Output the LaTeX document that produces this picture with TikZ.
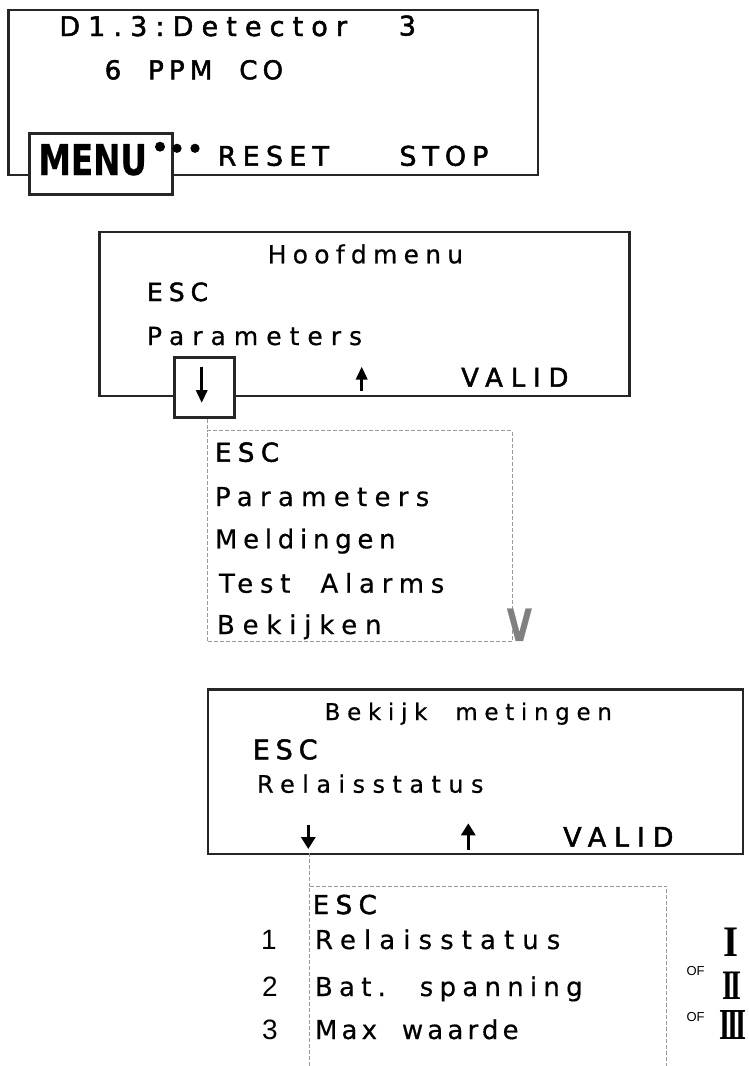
\documentclass[tikz,border=0pt]{standalone}
\usepackage{fontspec}
\usepackage{graphicx}
\usetikzlibrary{arrows.meta}
\newfontfamily\lcdH[FakeBold=1.8,WordSpace=2]{DejaVu Sans}
\newfontfamily\lcdL[FakeBold=0.5,WordSpace=2]{DejaVu Sans}
\newfontfamily\arialfont{Liberation Sans}
\newfontfamily\romfont{Liberation Serif}
\tikzset{
  lcdbox/.style={draw=black!85, line width=2.2pt, rectangle, inner sep=0pt, anchor=north west},
  keybox/.style={draw=black!85, line width=3pt, fill=white, rectangle, inner sep=0pt, anchor=north west},
  dashbox/.style={draw=black!40, line width=1pt, dash pattern=on 4pt off 2pt, rectangle, inner sep=0pt, anchor=north west},
  dashline/.style={draw=black!40, line width=1pt, dash pattern=on 4pt off 2pt},
  hv/.style 2 args={anchor=base west, inner sep=0pt, font={\lcdH\addfontfeature{LetterSpace=#2}\fontsize{#1}{#1}\selectfont}},
  lt/.style 2 args={anchor=base west, inner sep=0pt, font={\lcdL\addfontfeature{LetterSpace=#2}\fontsize{#1}{#1}\selectfont}},
  numtxt/.style={anchor=base west, inner sep=0pt, font={\arialfont\fontsize{28}{32}\selectfont}},
  oftxt/.style={anchor=base west, inner sep=0pt, font={\arialfont\fontsize{13}{15}\selectfont}},
  romtxt/.style={anchor=south west, inner sep=0pt, font={\romfont\bfseries}},
  keyarrowA/.style={line width=3.5pt, draw=black, -{Triangle[length=13pt,width=11pt]}},
  keyarrowB/.style={line width=3pt, draw=black, -{Triangle[length=12pt,width=14pt]}},
}
\begin{document}
\begin{tikzpicture}[x=1pt,y=-1pt]
\useasboundingbox (0,0) rectangle (749,1066);

% ---------- Screen 1 ----------
\node[lcdbox, minimum width=529.4pt, minimum height=165pt] (box1) at (7.3,9) {};
\node[hv={27}{30}] (t11) at (59.2,36) {D1.3:Detector};
\node[hv={27}{0}] (t12) at (398.7,35.5) {3};
\node[hv={26}{20}] (t13) at (104.5,79.3) {6 PPM CO};
\node[keybox, minimum width=142.4pt, minimum height=61pt] (menukey) at (28.3,131.7) {};
\node[anchor=base west, inner sep=0pt, font={\lcdL\bfseries}] (menu) at (38.3,175) {\resizebox{108.4pt}{31pt}{MENU}};
\fill[black] (160,146.7) circle[radius=5pt];
\fill[black] (177,148.3) circle[radius=4.6pt];
\fill[black] (195,148.3) circle[radius=4.6pt];
\node[hv={27}{23}] (reset) at (217.5,165.7) {RESET};
\node[hv={27}{22}] (stop) at (399.2,165.7) {STOP};

% ---------- Screen 2 ----------
\node[lcdbox, minimum width=530pt, minimum height=164.3pt] (box2) at (98.3,230.7) {};
\node[lt={25}{25}] (hm) at (267.5,263.3) {Hoofdmenu};
\node[hv={25}{24}] (esc2) at (146.8,301) {ESC};
\node[lt={25}{32}] (par2) at (146.8,345) {Parameters};
\node[hv={26}{30}] (valid2) at (461,386.7) {VALID};
\node[keybox, minimum width=60.6pt, minimum height=60pt] (downkey) at (172.7,356) {};
\draw[keyarrowA] (201.7,366.7) -- (201.7,403);
\draw[keyarrowA] (361.7,391) -- (361.7,366.5);

% ---------- Drop-down list 1 ----------
\node[dashbox, minimum width=304.4pt, minimum height=210.7pt] (list1) at (207.3,430) {};
\draw[dashline] (list1.north west |- downkey.south) -- (list1.north west);
\node[hv={26}{25}] (l1a) at (214.8,461.7) {ESC};
\node[lt={26}{28}] (l1b) at (214.8,506) {Parameters};
\node[lt={26}{22}] (l1c) at (214.8,548.3) {Meldingen};
\node[lt={26}{26}] (l1d) at (218.8,592.7) {Test Alarms};
\node[lt={26}{30}] (l1e) at (216.8,634) {Bekijken};
\node[anchor=north west, inner sep=0pt, text=black!50] (vmark) at (506.7,608.3) {\resizebox{25pt}{32.4pt}{\lcdL\bfseries V}};

% ---------- Screen 3 ----------
\node[lcdbox, minimum width=535.3pt, minimum height=164.4pt] (box3) at (206.7,688.3) {};
\node[lt={23}{29}] (bm) at (324.5,720) {Bekijk metingen};
\node[hv={27}{22}] (esc3) at (252.5,759.3) {ESC};
\node[lt={24}{31}] (rel3) at (256.8,792.7) {Relaisstatus};
\node[hv={27}{29}] (valid3) at (563,846.7) {VALID};
\draw[keyarrowB] (308.3,825) -- (308.3,849);
\draw[keyarrowB] (468.3,850) -- (468.3,823.3);
\coordinate (c3) at (309.5,852.7);

% ---------- Drop-down list 2 (open at the bottom) ----------
\coordinate (l2tl) at (309.5,886);
\coordinate (l2tr) at (666.7,886);
\coordinate (l2bl) at (309.5,1066);
\coordinate (l2br) at (666.7,1066);
\draw[dashline] (c3) -- (l2tl);
\draw[dashline] (l2bl) -- (l2tl) -- (l2tr) -- (l2br);
\node[hv={26}{25}] (l2a) at (312.5,914) {ESC};
\node[lt={26}{31}] (l2b) at (314.8,949) {Relaisstatus};
\node[lt={26}{24}] (l2c) at (314.8,996) {Bat. spanning};
\node[lt={26}{16}] (l2d) at (314.8,1039) {Max waarde};
\node[numtxt] (n1) at (261,949) {1};
\node[numtxt] (n2) at (262,996) {2};
\node[numtxt] (n3) at (262,1039) {3};
\node[oftxt] (of1) at (686.3,975.5) {OF};
\node[oftxt] (of2) at (686.3,1021) {OF};
\node[romtxt] (r1) at (723,956.5) {\resizebox{15pt}{28.5pt}{I}};
\node[romtxt] (r2) at (722,999.5) {\resizebox{19pt}{27.5pt}{I\kern-0.1em I}};
\node[romtxt] (r3) at (719,1040) {\resizebox{27.5pt}{29pt}{I\kern-0.1em I\kern-0.1em I}};
\end{tikzpicture}
\end{document}
